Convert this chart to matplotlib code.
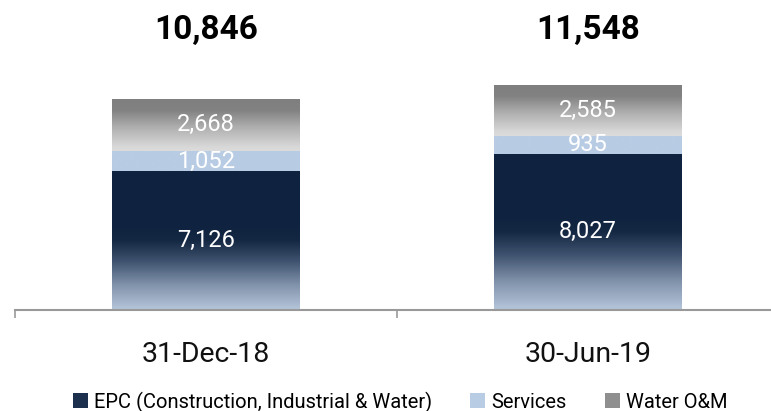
import matplotlib
matplotlib.use("Agg")
import matplotlib.pyplot as plt
import numpy as np
from matplotlib.colors import LinearSegmentedColormap
from matplotlib.patches import Patch

plt.rcParams['font.family'] = ['Roboto', 'DejaVu Sans']

categories = ["31-Dec-18", "30-Jun-19"]
series_names = ["EPC (Construction, Industrial & Water)", "Services", "Water O&M"]
epc = [7126, 8027]
services = [1052, 935]
water = [2668, 2585]
totals = [10846, 11548]

W, H = 771, 411
fig = plt.figure(figsize=(W / 100, H / 100), dpi=100)
ax = fig.add_axes([15 / W, (H - 310) / H, 764 / W, 310 / H])

epc_cmap = LinearSegmentedColormap.from_list(
    "epc", [(0.0, "#b6c6db"), (0.18, "#8193ab"), (0.35, "#3f526f"),
            (0.5, "#142843"), (0.6, "#0f2340"), (1.0, "#0f2340")])
svc_cmap = LinearSegmentedColormap.from_list("svc", ["#b8cce4", "#b8cce4"])
wat_cmap = LinearSegmentedColormap.from_list(
    "wat", [(0.0, "#dcdcdc"), (0.08, "#d8d8d8"), (0.45, "#b0b0b0"),
            (0.78, "#828282"), (1.0, "#7f7f7f")])

x = np.arange(len(categories))
width = 0.49
series = [(epc, epc_cmap), (services, svc_cmap), (water, wat_cmap)]

bottoms = np.zeros(len(categories))
grad = np.linspace(0, 1, 256).reshape(-1, 1)
for vals, cmap in series:
    bars = ax.bar(x, vals, width, bottom=bottoms, color="none", edgecolor="none")
    for b, v, bt in zip(bars, vals, bottoms):
        x0, y0 = b.get_x(), b.get_y()
        ax.imshow(grad, cmap=cmap, origin="lower", aspect="auto",
                  extent=[x0, x0 + b.get_width(), y0, y0 + b.get_height()],
                  zorder=1, interpolation="bilinear")
        ax.text(b.get_x() + b.get_width() / 2, bt + v / 2, f"{v:,}",
                ha="center", va="center", color="white", fontsize=17, zorder=3)
    bottoms = bottoms + np.array(vals)

for xi, t in zip(x, totals):
    ax.text(xi, 0.903, f"{t:,}", transform=ax.get_xaxis_transform(),
            ha="center", va="center", fontsize=24, fontweight="bold", color="black")

ax.set_xlim(-0.5, 1.5)
ax.set_ylim(0, 15930)

for s in ["top", "right", "left"]:
    ax.spines[s].set_visible(False)
ax.spines["bottom"].set_color("#999999")
ax.spines["bottom"].set_linewidth(1.5)
ax.set_yticks([])
ax.set_xticks(x)
ax.set_xticklabels(categories, fontsize=20.5, color="#111111")
ax.tick_params(axis="x", which="major", length=0, pad=22)
ax.set_xticks([-0.5, 0.5, 1.5], minor=True)
ax.tick_params(axis="x", which="minor", length=6, width=1.2, color="#999999", direction="out")

handles = [Patch(facecolor="#1c304d", edgecolor="none"),
           Patch(facecolor="#b8cce4", edgecolor="none"),
           Patch(facecolor="#8f8f8f", edgecolor="none")]
fig.legend(handles, series_names, loc="center", bbox_to_anchor=(400 / W, 9 / H),
           ncol=3, frameon=False, fontsize=14.5, handlelength=0.75, handleheight=0.75,
           handletextpad=0.3, columnspacing=1.9, borderaxespad=0)

fig.savefig("out.png", dpi=100)
